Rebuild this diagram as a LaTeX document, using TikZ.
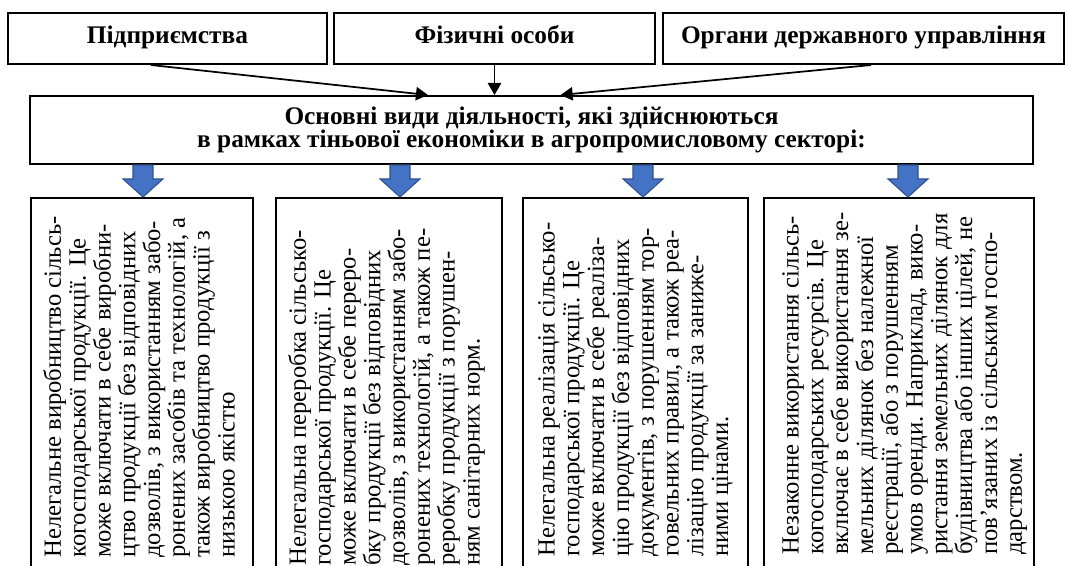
\documentclass[tikz,border=0pt]{standalone}
\usepackage{fontspec}
\setmainfont{Liberation Serif}
\usetikzlibrary{arrows.meta,calc}

\begin{document}
\begin{tikzpicture}[x=0.75pt,y=0.75pt,yscale=-1,xscale=1,
  box/.style={draw,line width=1.5pt,inner sep=0pt,anchor=north west},
  head/.style={font=\bfseries\fontsize{19}{17.5}\selectfont,align=center},
  tophead/.style={head,text height=12.5pt,text depth=4.5pt},
  arr/.style={line width=1.3pt,-{Triangle[length=9pt,width=10pt]}},
  bluearr/.style={fill={rgb,255:red,68;green,114;blue,196},draw={rgb,255:red,47;green,82;blue,143},line width=0.8pt},
  vtext/.style={rotate=90,anchor=north west,inner sep=0pt,align=left,font=\fontsize{18.5}{18.6}\selectfont}]
\useasboundingbox (0,0) rectangle (1065,566);
\clip (0,0) rectangle (1065,566);

%Top boxes
\node[box,tophead,minimum width=239.25pt,minimum height=38.25pt] (top1) at (7,12) {Підприємства};
\node[box,tophead,minimum width=240.75pt,minimum height=38.25pt] (top2) at (333,12) {Фізичні особи};
\node[box,tophead,minimum width=300.75pt,minimum height=38.25pt] (top3) at (662,12) {Органи державного управління};

%Main box
\node[box,head,minimum width=752.25pt,minimum height=51pt] (main) at (29,95) {Основні види діяльності, які здійснюються\\в рамках тіньової економіки в агропромисловому секторі:};

%Arrows into main box
\draw[arr] ($(top1.south west)!0.448!(top1.south east)$) -- ($(main.north west)!0.397!(main.north east)$);
\draw[arr] (top2.south) -- (top2.south |- main.north);
\draw[arr] ($(top3.south west)!0.519!(top3.south east)$) -- ($(main.north west)!0.529!(main.north east)$);

%Bottom boxes
\node[box,minimum width=166.5pt,minimum height=287.25pt] (b1) at (30,197) {};
\node[box,minimum width=169.5pt,minimum height=287.25pt] (b2) at (275,197) {};
\node[box,minimum width=168.75pt,minimum height=287.25pt] (b3) at (522,197) {};
\node[box,minimum width=202.5pt,minimum height=287.25pt] (b4) at (763,197) {};

%Block arrows
\foreach \i/\bx in {1/143,2/400,3/643,4/908}{
  \coordinate (ax) at (\bx,0);
  \draw[bluearr] ($(main.south -| ax)+(-10,0)$) -- ($(main.south -| ax)+(10,0)$) -- ($(b\i.north -| ax)+(10,-18)$) -- ++(10,0) -- (b\i.north -| ax) -- ($(b\i.north -| ax)+(-20,-18)$) -- ++(10,0) -- cycle;
}

% Text Node
\node[vtext] (t1) at (43,558) {Нелегальне виробництво сільсь-\\когосподарської продукції. Це\\може включати в себе виробни-\\цтво продукції без відповідних\\дозволів, з використанням забо-\\ронених засобів та технологій, а\\також виробництво продукції з\\низькою якістю};
% Text Node
\node[vtext] (t2) at (288,566) {Нелегальна переробка сільсько-\\господарської продукції. Це\\може включати в себе переро-\\бку продукції без відповідних\\дозволів, з використанням забо-\\ронених технологій, а також пе-\\реробку продукції з порушен-\\ням санітарних норм.};
% Text Node
\node[vtext] (t3) at (538,557) {Нелегальна реалізація сільсько-\\господарської продукції. Це\\може включати в себе реаліза-\\цію продукції без відповідних\\документів, з порушенням тор-\\говельних правил, а також реа-\\лізацію продукції за заниже-\\ними цінами.};
% Text Node
\node[vtext] (t4) at (782,555) {Незаконне використання сільсь-\\когосподарських ресурсів. Це\\включає в себе використання зе-\\мельних ділянок без належної\\реєстрації, або з порушенням\\умов оренди. Наприклад, вико-\\ристання земельних ділянок для\\будівництва або інших цілей, не\\пов'язаних із сільським госпо-\\дарством.};
\end{tikzpicture}
\end{document}
